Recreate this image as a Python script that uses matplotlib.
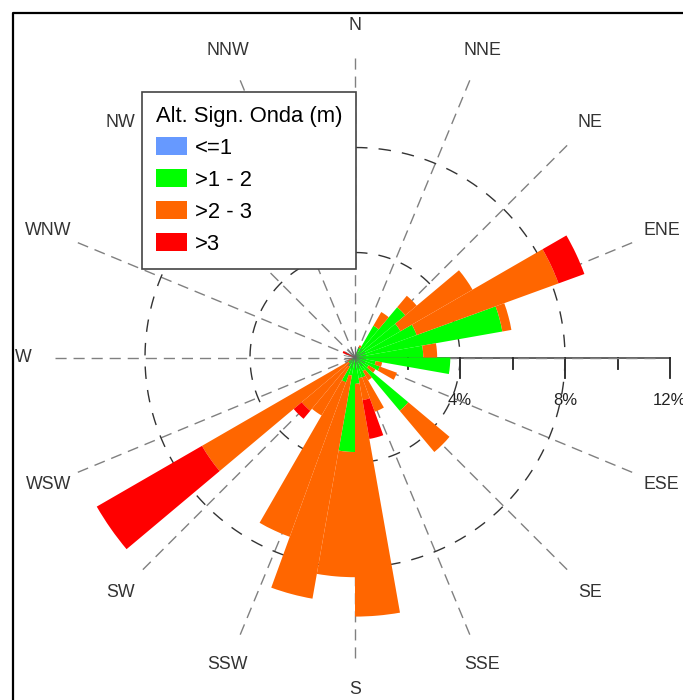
import numpy as np
import matplotlib
matplotlib.use("Agg")
import matplotlib.pyplot as plt
from matplotlib.patches import Patch
from matplotlib.lines import Line2D

plt.rcParams['font.family'] = ['Liberation Sans', 'DejaVu Sans']

# direction bins (degrees, start of each 10 deg sector, clockwise from N)
dir_start = np.arange(0, 360, 10)

# percentage of occurrences per height class in each sector
blue = [0] * 36
green = [0, 0, 0.4, 1.4, 2.5, 2.0, 2.5, 5.7, 2.6, 3.63, 0.8, 1.0,
         0.6, 2.65, 0.6, 0.8, 0.8, 1.0, 3.6, 0.7, 1.0, 0.4, 0.3, 0.3,
         0.1, 0, 0, 0, 0, 0, 0, 0, 0, 0, 0, 0]
orange = [0, 0, 0.1, 0.6, 0.57, 3.17, 5.75, 0.35, 0.53, 0, 0.25, 0.7,
          0.3, 2.05, 0.4, 1.4, 0.85, 8.87, 4.77, 8.63, 6.27, 2.15, 2.35, 6.43,
          0.2, 0, 0, 0, 0, 0, 0, 0, 0, 0, 0, 0]
red = [0, 0, 0, 0, 0, 0, 1.05, 0, 0, 0, 0, 0,
       0, 0, 0, 0, 1.5, 0, 0, 0, 0, 0, 0.4, 4.63,
       0, 0, 0, 0, 0, 0.5, 0, 0, 0, 0, 0, 0]

classes = ['<=1', '>1 - 2', '>2 - 3', '>3']
colors = ['#6699FF', '#00FF00', '#FF6600', '#FF0000']
compass = ['N', 'NNE', 'NE', 'ENE', 'E', 'ESE', 'SE', 'SSE',
           'S', 'SSW', 'SW', 'WSW', 'W', 'WNW', 'NW', 'NNW']
rings = [4, 8]
scale_ticks = [4, 8, 12]
scale_minor = [2, 6, 10]

W, H = 683, 700
cx, cy = 355, 357.5          # centre of the rose in pixels
px_per_pct = 26.25
R = 13.0
rp = R * px_per_pct
rect = [(cx - rp) / W, (H - cy - rp) / H, 2 * rp / W, 2 * rp / H]

fig = plt.figure(figsize=(W / 100, H / 100), dpi=100)
fig.patch.set_facecolor('white')

ax = fig.add_axes(rect, projection='polar')
ax.set_theta_zero_location('N')
ax.set_theta_direction(-1)
ax.set_ylim(0, R)
ax.grid(False)
ax.set_xticks([])
ax.set_yticks([])
ax.spines['polar'].set_visible(False)
ax.patch.set_alpha(0)

# grid: radial dashed lines and dashed rings
for i, name in enumerate(compass):
    th = np.deg2rad(i * 22.5)
    ax.plot([th, th], [0, 11.55], color='#808080', lw=1.0,
            dashes=(8, 5), zorder=1)
    ax.text(th, 12.65, name, ha='center', va='center', fontsize=12.8,
            color='#333333')
tt = np.linspace(0, 2 * np.pi, 400)
for r in rings:
    ax.plot(tt, np.full_like(tt, r), color='#333333', lw=1.0,
            dashes=(9, 8), zorder=1)

# stacked sector bars
theta = np.deg2rad(dir_start + 5)
width = np.deg2rad(10)
bottom = np.zeros(36)
for vals, col in zip([blue, green, orange, red], colors):
    vals = np.asarray(vals, dtype=float)
    ax.bar(theta, vals, width=width, bottom=bottom, color=col,
           edgecolor='none', linewidth=0, zorder=3)
    bottom = bottom + vals

# little star at the centre
for d in dir_start[::2]:
    th = np.deg2rad(d)
    ax.plot([th, th], [0, 0.42], color='#666666', lw=0.5, zorder=4)

# percentage scale along E
ax2 = fig.add_axes(rect, zorder=-1)
ax2.set_xlim(-R, R)
ax2.set_ylim(-R, R)
ax2.axis('off')
ax2.plot([0, 12], [0, 0], color='#555555', lw=1.3)
for t in scale_ticks:
    ax2.plot([t, t], [0, -0.78], color='#222222', lw=1.3)
    ax2.text(t, -1.62, f'{t}%', ha='center', va='center', fontsize=12,
             color='#222222')
for t in scale_minor:
    ax2.plot([t, t], [0, -0.42], color='#222222', lw=1.3)

# frame (only left and top edges fall inside the picture)
fx, fy = 13 / W, 1 - 13 / H
fig.add_artist(Line2D([fx, fx, 1], [0, fy, fy], transform=fig.transFigure,
                      color='black', lw=1.6))

handles = [Patch(facecolor=c, edgecolor='none') for c in colors]
leg = fig.legend(handles, classes, title='Alt. Sign. Onda (m)',
                 loc='upper left', bbox_to_anchor=(141.5 / W, 1 - 91.5 / H),
                 bbox_transform=fig.transFigure, frameon=True, fancybox=False,
                 edgecolor='#444444', framealpha=1, borderaxespad=0,
                 fontsize=15.8, title_fontsize=15.8, alignment='left',
                 handlelength=1.45, handleheight=0.9, handletextpad=0.35,
                 labelspacing=0.47, borderpad=0.64)
leg.get_frame().set_linewidth(1.2)
leg.set_zorder(10)

fig.savefig('out.png', dpi=100)
